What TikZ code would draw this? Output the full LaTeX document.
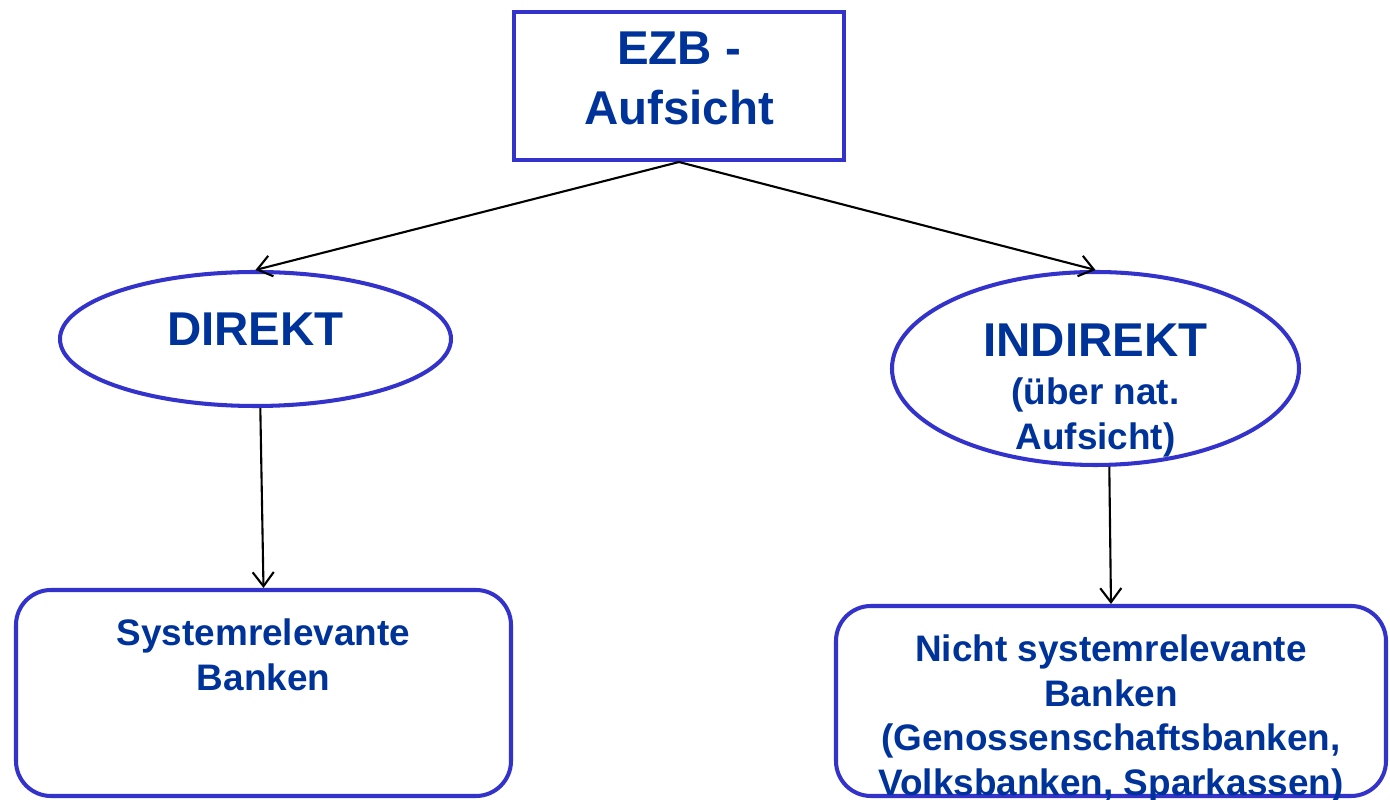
\documentclass[tikz,border=0pt]{standalone}
\usepackage{fontspec}
\setmainfont{Liberation Sans}
\usepackage{tikz}
\usetikzlibrary{positioning}
\usetikzlibrary{shapes.geometric}
\usetikzlibrary{arrows.meta}
\definecolor{boxblue}{HTML}{3333CC}
\definecolor{textblue}{HTML}{003399}

\begin{document}
\begin{tikzpicture}[
  frame/.style={draw=boxblue, line width=1.15pt, inner sep=0},
  oval/.style={frame, ellipse},
  bigtext/.style={text=textblue, font=\fontsize{13.5}{17}\selectfont\bfseries, inner sep=0, align=center},
  smalltext/.style={text=textblue, font=\fontsize{10.5}{12.7}\selectfont\bfseries, inner sep=0, align=center},
  link/.style={black, line width=0.6pt, -{Straight Barb[length=4pt,width=6pt]}}
]
\useasboundingbox (0,0) rectangle (13.9,-8);

\node at (6.79,-0.86) [frame, minimum width=3.3cm, minimum height=1.48cm] (ezb) {};
\node at (6.79,-0.785) [bigtext] (ezbtext) {EZB -\\Aufsicht};

\node at (2.555,-3.39) [oval, minimum width=3.91cm, minimum height=1.34cm] (direkt) {};
\node at (2.555,-3.295) [bigtext] (direkttext) {DIREKT};

\node at (10.955,-3.685) [oval, minimum width=4.07cm, minimum height=1.93cm] (indirekt) {};
\node at (10.955,-3.40) [bigtext] (indirekttext) {INDIREKT};
\node [smalltext, below=0.2cm of indirekttext] (indirektsub) {(über nat.\\Aufsicht)};

\node at (2.635,-6.93) [frame, rounded corners=0.35cm, minimum width=4.95cm, minimum height=2.06cm] (sys) {};
\node [smalltext, below=0.30cm of sys.north] (systext) {Systemrelevante\\Banken};

\node at (11.11,-7.01) [frame, rounded corners=0.35cm, minimum width=5.5cm, minimum height=1.9cm] (nicht) {};
\node [smalltext, below=0.30cm of nicht.north] (nichttext) {Nicht systemrelevante\\Banken\\(Genossenschaftsbanken,\\Volksbanken, Sparkassen)};

\draw[link] (ezb.south) -- (direkt.north);
\draw[link] (ezb.south) -- (indirekt.north);
\draw[link] (direkt.-86) -- (sys.north);
\draw[link] (indirekt.-82) -- (nicht.north);

\end{tikzpicture}
\end{document}
